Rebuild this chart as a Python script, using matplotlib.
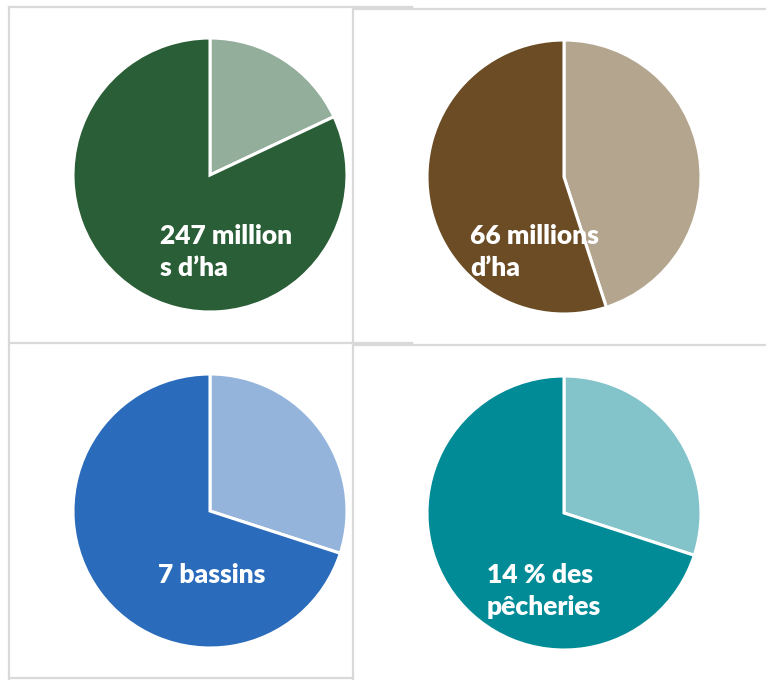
import matplotlib
matplotlib.use("Agg")
import matplotlib.pyplot as plt
from matplotlib.lines import Line2D

plt.rcParams['font.family'] = ['Lato', 'DejaVu Sans']

# data: share of each pie (light slice first, clockwise from top)
shares_forests = [18, 82]
shares_land = [45, 55]
shares_basins = [30, 70]
shares_fish = [30, 70]

labels = ["247 million\ns d\u2019ha", "66 millions\nd\u2019ha", "7 bassins", "14 % des\npêcheries"]

colors_forests = ['#93ae9a', '#2a5e37']
colors_land = ['#b4a58f', '#6b4c24']
colors_basins = ['#94b4dc', '#2b6bbb']
colors_fish = ['#82c4ca', '#008b96']

W, H = 766, 680
fig = plt.figure(figsize=(W / 100, H / 100), dpi=100)
fig.patch.set_facecolor('white')


def px_line(x0, y0, x1, y1):
    fig.add_artist(Line2D([x0 / W, x1 / W], [1 - y0 / H, 1 - y1 / H],
                          transform=fig.transFigure, color='#d9d9d9', lw=1.6))


# table-like cell borders
px_line(9, 7, 412, 7)
px_line(354, 9, 766, 9)
px_line(9, 7, 9, 680)
px_line(353, 7, 353, 680)
px_line(9, 343, 412, 343)
px_line(354, 345, 766, 345)
px_line(9, 678, 353, 678)

pies = [
    (shares_forests, colors_forests, (210, 175)),
    (shares_land, colors_land, (564, 177)),
    (shares_basins, colors_basins, (210, 511)),
    (shares_fish, colors_fish, (564, 513)),
]
r = 137
for vals, cols, (cx, cy) in pies:
    ax = fig.add_axes([(cx - r) / W, 1 - (cy + r) / H, 2 * r / W, 2 * r / H])
    ax.pie(vals, colors=cols, startangle=90, counterclock=False,
           wedgeprops=dict(edgecolor='white', linewidth=2.2))
    ax.set_xlim(-1, 1)
    ax.set_ylim(-1, 1)
    ax.axis('off')

text_pos = [(160, 252), (470, 252), (158, 575), (487, 591)]
for lab, (tx, ty) in zip(labels, text_pos):
    fig.text(tx / W, 1 - ty / H, lab, color='white', fontsize=19, fontweight='heavy',
             ha='left', va='center', linespacing=1.42)

fig.savefig('out.png', dpi=100, facecolor='white')
